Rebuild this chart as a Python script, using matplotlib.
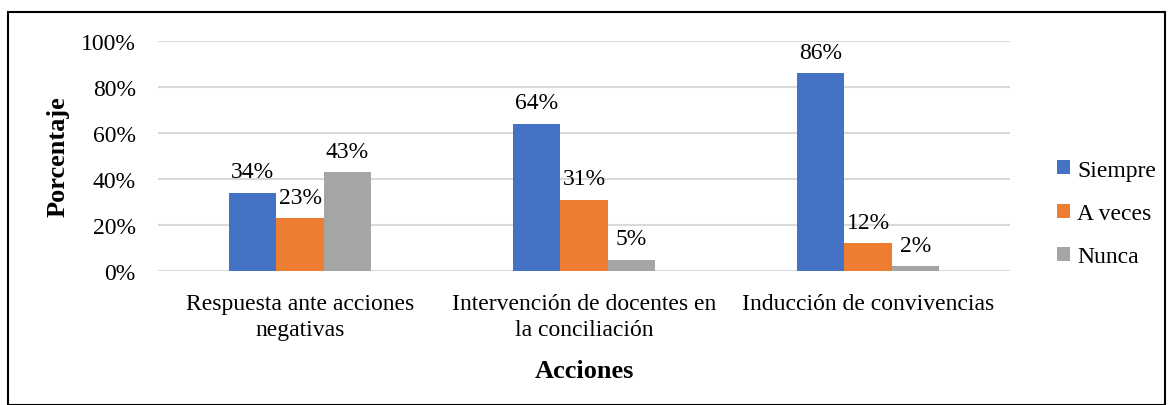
import matplotlib.pyplot as plt
import numpy as np
from matplotlib.patches import Rectangle

categories = ['Respuesta ante acciones\nnegativas',
              'Intervención de docentes en\nla conciliación',
              'Inducción de convivencias']
series = ['Siempre', 'A veces', 'Nunca']
siempre = [34, 64, 86]
a_veces = [23, 31, 12]
nunca = [43, 5, 2]
colors = ['#4472C4', '#ED7D31', '#A5A5A5']

plt.rcParams['font.family'] = ['Liberation Serif', 'DejaVu Serif']

W, H = 1169, 406
fig = plt.figure(figsize=(W / 100, H / 100), dpi=100)
ax = fig.add_axes([158 / W, 1 - 272 / H, (1010 - 158) / W, (272 - 42) / H])

x = np.arange(len(categories))
width = 0.166
for i, (name, vals, c) in enumerate(zip(series, [siempre, a_veces, nunca], colors)):
    pos = x + (i - 1) * width
    ax.bar(pos, vals, width, color=c, label=name, zorder=3)
    for p, v in zip(pos, vals):
        ax.text(p, v + 4.5, f'{v}%', ha='center', va='bottom', fontsize=17)

ax.set_xlim(-0.5, 2.5)
ax.set_ylim(0, 100)
ax.set_yticks(range(0, 101, 20))
ax.set_yticklabels([f'{t}%' for t in range(0, 101, 20)], fontsize=17)
ax.set_xticks(x)
ax.set_xticklabels(categories, fontsize=17, linespacing=1.3)
ax.tick_params(length=0, pad=16)
ax.tick_params(axis='y', pad=16)
ax.grid(axis='y', color='#d9d9d9', linewidth=1.5, zorder=0)
for s in ax.spines.values():
    s.set_visible(False)

ax.set_ylabel('Porcentaje', fontsize=19, fontweight='bold', labelpad=8)
ax.set_xlabel('Acciones', fontsize=19, fontweight='bold', labelpad=14)

ax.legend(loc='center left', bbox_to_anchor=(1.03, 0.25), frameon=False,
          fontsize=17, handlelength=0.55, handleheight=0.55, handletextpad=0.3,
          labelspacing=0.95)

fig.patches.append(Rectangle((8 / W, 0), (1165 - 8) / W, 1 - 13 / H,
                             transform=fig.transFigure, fill=False,
                             edgecolor='black', linewidth=1.5))

fig.savefig('out.png', dpi=100)
